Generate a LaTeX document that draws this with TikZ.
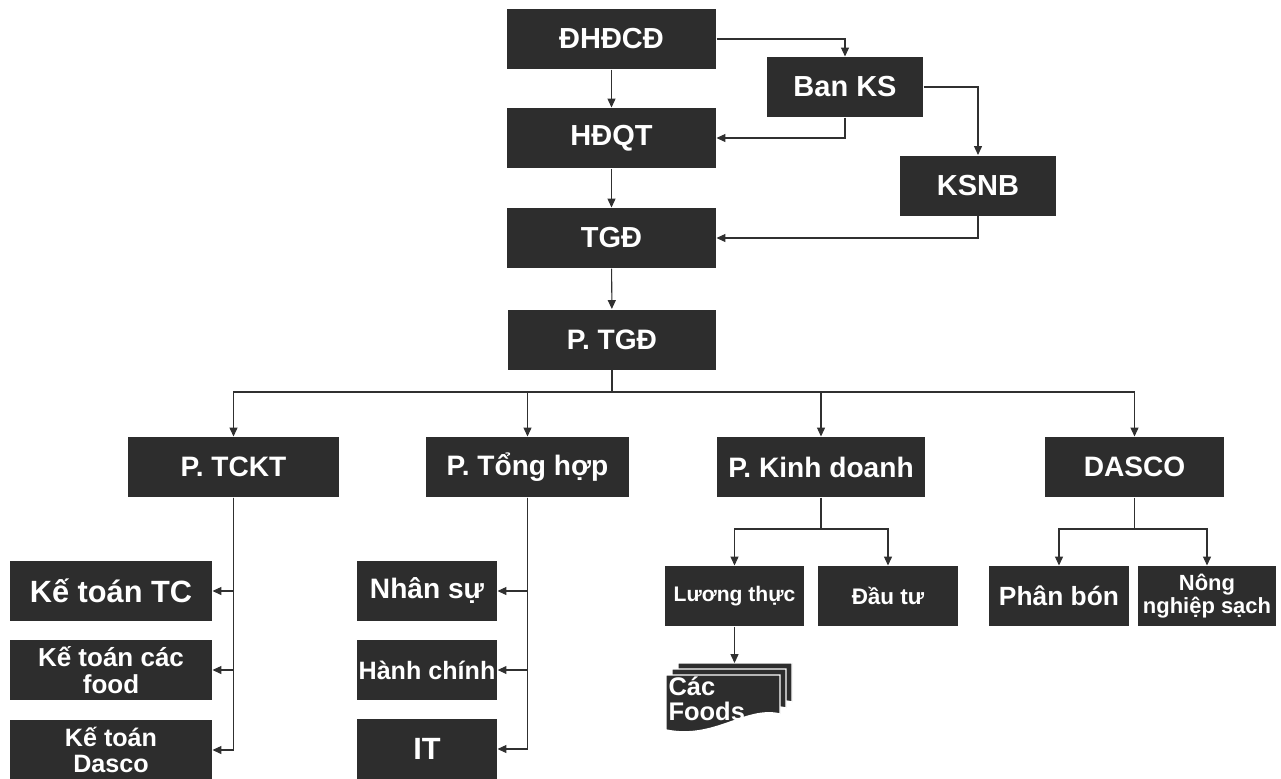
\documentclass[tikz,border=0pt]{standalone}
\usepackage{fontspec}
\setmainfont{Liberation Sans}
\usetikzlibrary{arrows.meta}
\definecolor{boxgray}{HTML}{2D2D2D}
\definecolor{linegray}{HTML}{303030}

\begin{document}
\begin{tikzpicture}[x=0.02cm, y=-0.02cm, line width=0.6pt, color=linegray,
  >={Triangle[length=5pt,width=4.5pt]},
  box/.style={rectangle, fill=boxgray, text=white, minimum height=1.2cm, inner sep=1pt, align=center},
  big/.style={box, minimum width=4.18cm, font=\bfseries\fontsize{16.5}{18}\selectfont},
  small/.style={box, minimum width=2.8cm}]
  \useasboundingbox (0,0) rectangle (1281,778);
  % Nodes
  \node[big] (dhdcd) at (611.5,39) {ĐHĐCĐ};
  \node[big, minimum width=3.12cm] (banks) at (845,87) {Ban KS};
  \node[big] (hdqt) at (611.5,138) {HĐQT};
  \node[big, minimum width=3.12cm] (ksnb) at (978,185.5) {KSNB};
  \node[big] (tgd) at (611.5,238) {TGĐ};
  \node[big, font=\bfseries\fontsize{16}{18}\selectfont] (ptgd) at (612,339.5) {P. TGĐ};
  \node[big, minimum width=4.22cm, font=\bfseries\fontsize{16}{18}\selectfont] (ptckt) at (233.5,467) {P. TCKT};
  \node[big, minimum width=4.06cm, font=\bfseries\fontsize{16}{18}\selectfont] (pth) at (527.5,467) {P. Tổng hợp};
  \node[big, minimum width=4.16cm, font=\bfseries\fontsize{16}{18}\selectfont] (pkd) at (821,467) {P. Kinh doanh};
  \node[big, minimum width=3.58cm, font=\bfseries\fontsize{16}{18}\selectfont] (dasco) at (1134.5,467) {DASCO};
  \node[box, minimum width=4.04cm, font=\bfseries\fontsize{17.5}{18}\selectfont] (kttc) at (111,591) {Kế toán TC};
  \node[box, minimum width=4.04cm, font=\bfseries\fontsize{14.8}{15.4}\selectfont] (ktfood) at (111,670) {Kế toán các\\food};
  \node[box, minimum width=4.04cm, font=\bfseries\fontsize{14.3}{14.3}\selectfont] (ktdasco) at (111,750) {Kế toán\\Dasco};
  \node[small, font=\bfseries\fontsize{16}{18}\selectfont] (nhansu) at (427,591) {Nhân sự};
  \node[small, font=\bfseries\fontsize{14.3}{16}\selectfont] (hanhchinh) at (427,670) {Hành chính};
  \node[small, font=\bfseries\fontsize{17.5}{18}\selectfont] (it) at (427,749) {IT};
  \node[small, minimum width=2.78cm, font=\bfseries\fontsize{12}{14}\selectfont] (luongthuc) at (734.5,596) {Lương thực};
  \node[small, font=\bfseries\fontsize{12.8}{14}\selectfont] (dautu) at (888,596) {Đầu tư};
  \node[small, font=\bfseries\fontsize{15}{16}\selectfont] (phanbon) at (1059,596) {Phân bón};
  \node[small, minimum width=2.76cm, font=\bfseries\fontsize{12.5}{13}\selectfont] (nongnghiep) at (1207,596) {Nông\\nghiệp sạch};
  % Các Foods stack
  \foreach \d in {12,6,0}{
    \begin{scope}[shift={(\d,-\d)}]
      \filldraw[fill=boxgray, draw=white, line width=0.8pt] (666,675) -- (780,675) -- (780,714)
        .. controls (745,706) and (715,740) .. (666,730) -- cycle;
    \end{scope}
  }
  \node[anchor=north west, inner sep=0, text=white, align=left,
    font=\bfseries\fontsize{14.5}{14.5}\selectfont] (cacfoods) at (668,676) {Các\\Foods};
  \fill[white] (780,714) .. controls (745,706) and (715,740) .. (666,730) -- (666,748) -- (782,748) -- cycle;
  \coordinate (foodtop) at (734.5,663);
  \coordinate (bus) at (612,392);
  \coordinate (kdbus) at (821,529);
  \coordinate (dabus) at (1134.5,529);
  % Connections
  \draw[->] (dhdcd) -- (hdqt);
  \draw[->] (hdqt) -- (tgd);
  \draw[->] (tgd) -- (ptgd);
  \draw[->] (dhdcd.east) -| (banks.north);
  \draw[->] (banks.south) |- (hdqt.east);
  \draw[->] (banks.east) -| (ksnb.north);
  \draw[->] (ksnb.south) |- (tgd.east);
  \draw (ptgd.south) -- (bus);
  \draw[->] (bus) -| (ptckt.north);
  \draw[->] (bus) -| (pth.north);
  \draw[->] (bus) -| (pkd.north);
  \draw[->] (bus) -| (dasco.north);
  \draw[->] (ptckt.south) |- (kttc.east);
  \draw[->] (ptckt.south) |- (ktfood.east);
  \draw[->] (ptckt.south) |- (ktdasco.east);
  \draw[->] (pth.south) |- (nhansu.east);
  \draw[->] (pth.south) |- (hanhchinh.east);
  \draw[->] (pth.south) |- (it.east);
  \draw (pkd.south) -- (kdbus);
  \draw[->] (kdbus) -| (luongthuc.north);
  \draw[->] (kdbus) -| (dautu.north);
  \draw[->] (luongthuc.south) -- (foodtop);
  \draw (dasco.south) -- (dabus);
  \draw[->] (dabus) -| (phanbon.north);
  \draw[->] (dabus) -| (nongnghiep.north);
\end{tikzpicture}
\end{document}
